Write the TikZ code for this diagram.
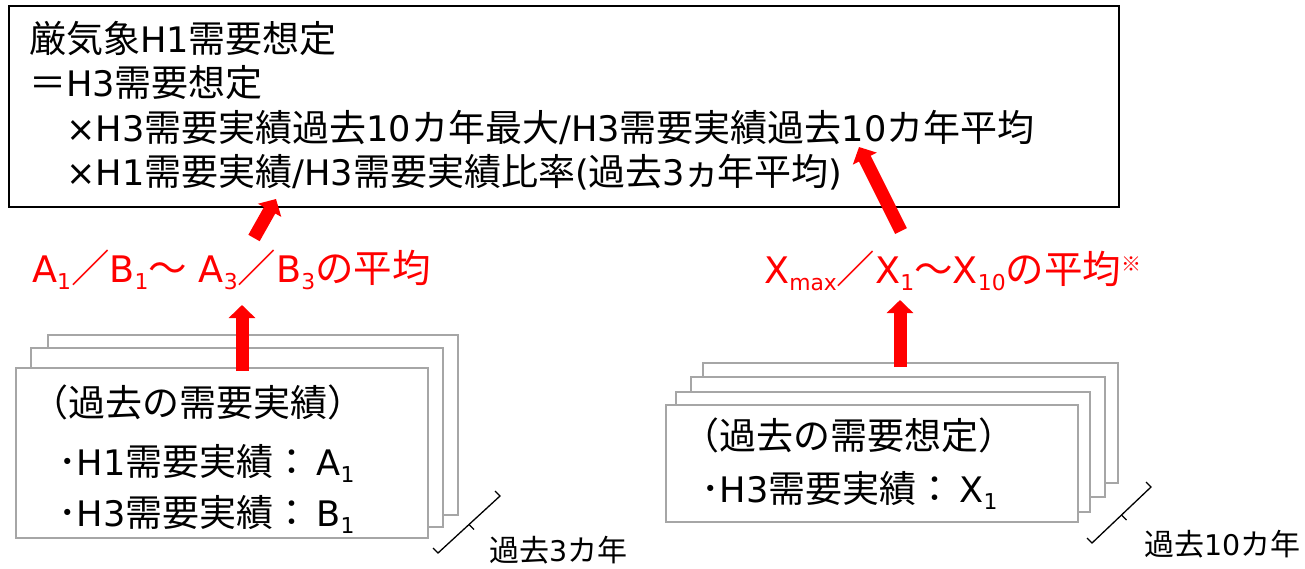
\documentclass[tikz,border=0pt]{standalone}
\usepackage{fontspec}
\setmainfont{Noto Sans CJK JP}
\newfontfamily\latfont[Scale=0.95]{DejaVu Sans}
\usetikzlibrary{arrows.meta,calc}
\newcommand\lat[1]{{\latfont #1}}
\newcommand\sbs[1]{\raisebox{-7pt}{\latfont\fontsize{23}{23}\selectfont #1}}
\newcommand\sps[1]{\raisebox{12pt}{\fontsize{20}{20}\selectfont #1}}
\tikzset{
 frame/.style={draw=black, line width=1.6pt, fill=white, inner sep=0pt, outer sep=0pt},
 sheet/.style={draw=gray!70, line width=1.8pt, fill=white, inner sep=0pt, outer sep=0pt},
 txt/.style={anchor=base west, inner sep=0pt, font=\fontsize{37}{44}\selectfont},
 redtxt/.style={anchor=base west, inner sep=0pt, text=red, font=\fontsize{38.5}{44}\selectfont},
 smalltxt/.style={anchor=base west, inner sep=0pt, font=\fontsize{30}{36}\selectfont},
 bigarrow/.style={draw=red, line width=13pt, -{Triangle[width=26pt,length=13pt]}},
 bracestyle/.style={draw=black, line width=1.3pt, line join=miter},
}
\begin{document}
\begin{tikzpicture}[x=1pt,y=-1pt]
\useasboundingbox (0,0) rectangle (1305,568);
\fill[white] (0,0) rectangle (1305,568);

% top formula box
\node[frame, minimum width=1110pt, minimum height=201pt] (top) at (564,106.5) {};
\node[txt] (t1) at (29,52) {厳気象\lat{H1}需要想定};
\node[txt] (t2) at (29,96) {＝\lat{H3}需要想定};
\node[txt] (t3) at (29,141) {　\lat{×H3}需要実績過去\lat{10}カ年最大\lat{/H3}需要実績過去\lat{10}カ年平均};
\node[txt] (t4) at (29,185) {　\lat{×H1}需要実績\lat{/H3}需要実績比率\lat{(}過去\lat{3}\kern-2ptヵ\kern-3pt年平均\lat{)}};

% red labels
\node[redtxt] (lab1) at (32,282) {\lat{A}\sbs{1}／\lat{B}\sbs{1}～\lat{ A}\sbs{3}／\lat{B}\sbs{3}の平均};
\node[redtxt] (lab2) at (764,283) {\lat{X}\sbs{max}／\lat{X}\sbs{1}～\lat{X}\sbs{10}の平均\sps{※}};

% left stack
\node[sheet, minimum width=410pt, minimum height=180pt] (lb3) at (253,425) {};
\node[sheet, minimum width=412pt, minimum height=179pt] (lb2) at (237,437.5) {};
\node[sheet, minimum width=412pt, minimum height=170pt] (lb1) at (222,453) {};
\node[txt] (lt1) at (31,416) {（過去の需要実績）};
\node[txt] (lt2) at (58,475) {･\lat{H1}需要実績：\kern6pt\lat{A}\sbs{1}};
\node[txt] (lt3) at (58,526) {･\lat{H3}需要実績：\kern6pt\lat{B}\sbs{1}};

% right stack
\node[sheet, minimum width=415pt, minimum height=120pt] (rb4) at (910.5,423) {};
\node[sheet, minimum width=414pt, minimum height=120pt] (rb3) at (898,437) {};
\node[sheet, minimum width=414pt, minimum height=120pt] (rb2) at (883,452) {};
\node[sheet, minimum width=412pt, minimum height=117pt] (rb1) at (872,463.5) {};
\node[txt] (rt1) at (682,449) {（過去の需要想定）};
\node[txt] (rt2) at (701,502) {･\lat{H3}需要実績：\kern6pt\lat{X}\sbs{1}};

% braces
\draw[bracestyle] (433,548) -- (438,553) -- (500,496) -- (495,491);
\draw[bracestyle] (469,524.5) -- (474,529.5);
\node[smalltxt] (bl1) at (489,561) {過去\lat{3}カ年};
\draw[bracestyle] (1087,538) -- (1092,543) -- (1151,487) -- (1146,482);
\draw[bracestyle] (1121.5,515) -- (1126.5,520);
\node[smalltxt] (bl2) at (1144,555) {過去\lat{10}カ年};

% arrows
\coordinate (aL0) at (242,371);
\coordinate (aL1) at (242,305);
\coordinate (dL0) at (254,238);
\coordinate (dL1) at (276,199);
\coordinate (aR0) at (900,367);
\coordinate (aR1) at (900,300);
\coordinate (dR0) at (901,231);
\coordinate (dR1) at (859,147);
\draw[bigarrow] (aL0) -- (aL1);
\draw[bigarrow] (dL0) -- (dL1);
\draw[bigarrow] (aR0) -- (aR1);
\draw[bigarrow] (dR0) -- (dR1);
\end{tikzpicture}
\end{document}
